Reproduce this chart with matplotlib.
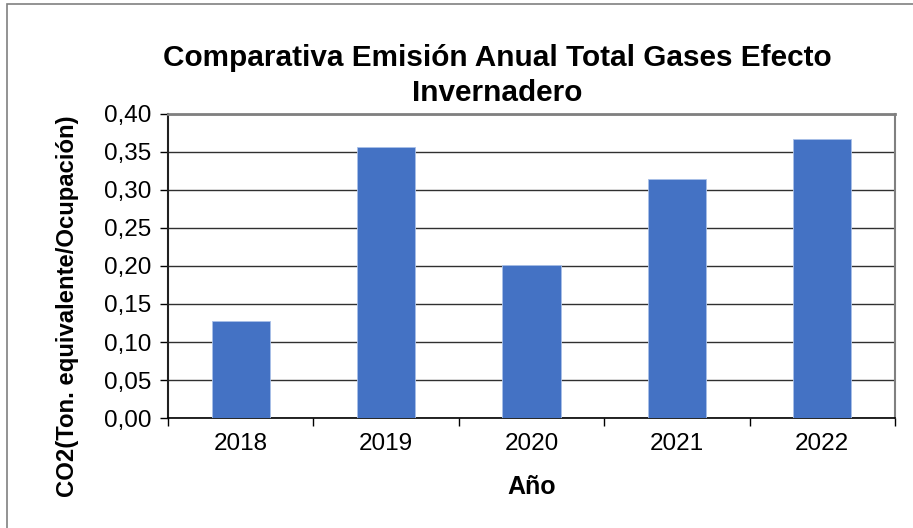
import matplotlib
matplotlib.use('Agg')
import matplotlib.pyplot as plt
from matplotlib.patches import Rectangle

plt.rcParams['font.family'] = ['Liberation Sans', 'DejaVu Sans']

# annual totals per year
years = ['2018', '2019', '2020', '2021', '2022']
emisiones = [0.128, 0.357, 0.201, 0.314, 0.367]

fig = plt.figure(figsize=(9.13, 5.28), dpi=100)
ax = fig.add_axes([168/913, 1 - 418/528, (895 - 168)/913, (418 - 114)/528])

# outer frame around the whole chart
fig.patches.append(Rectangle((7/913, -0.1), 1.2, 1 - 4/528 + 0.1, transform=fig.transFigure,
                             fill=False, edgecolor='#808080', linewidth=1.2))

x = range(len(years))
ax.bar(x, emisiones, width=0.4, color='#4472C4', edgecolor='#A9C0E8', linewidth=0.6, zorder=3)

ax.set_xlim(-0.5, 4.5)
ax.set_ylim(0, 0.40)
yt = [i * 0.05 for i in range(9)]
ax.set_yticks(yt)
ax.set_yticklabels([('%.2f' % v).replace('.', ',') for v in yt], fontsize=17.5)
ax.set_xticks(list(x))
ax.set_xticklabels(years, fontsize=17.5)
ax.set_xticks([i + 0.5 for i in range(-1, 5)], minor=True)
ax.tick_params(axis='x', which='major', length=0, pad=11)
ax.tick_params(axis='x', which='minor', length=6, width=1, direction='out')
ax.tick_params(axis='y', length=6, width=1, direction='out', pad=6)

ax.grid(axis='y', color='#303030', linewidth=1, zorder=0)
ax.spines['top'].set_color('#808080')
ax.spines['top'].set_linewidth(2)
ax.spines['right'].set_color('#808080')
ax.spines['right'].set_linewidth(1.5)
ax.spines['left'].set_color('#202020')
ax.spines['left'].set_linewidth(1.5)
ax.spines['bottom'].set_color('black')
ax.spines['bottom'].set_linewidth(1.2)

fig.text(497/913, 1 - 58/528, 'Comparativa Emisión Anual Total Gases Efecto', ha='center', va='center',
         fontsize=21.4, fontweight='bold')
fig.text(497/913, 1 - 93/528, 'Invernadero', ha='center', va='center', fontsize=21.4, fontweight='bold')

ax.set_xlabel('Año', fontsize=18, fontweight='bold', labelpad=14)
fig.text(68/913, 1 - 306/528, 'CO2(Ton. equivalente/Ocupación)', rotation=90, ha='center', va='center',
         fontsize=17.2, fontweight='bold')

fig.savefig('out.png', dpi=100)
